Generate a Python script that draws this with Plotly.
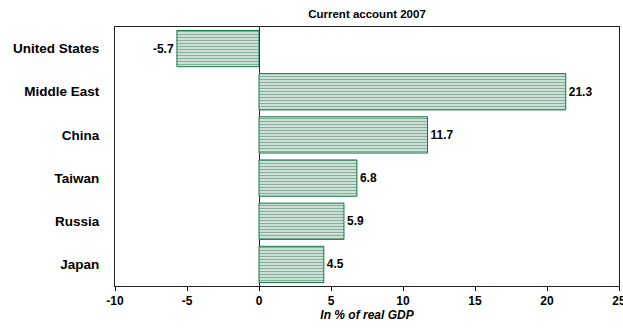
import plotly.graph_objects as go

regions = ["United States", "Middle East", "China", "Taiwan", "Russia", "Japan"]
current_account = [-5.7, 21.3, 11.7, 6.8, 5.9, 4.5]
x_ticks = [-10, -5, 0, 5, 10, 15, 20, 25]

GREEN = "#0a5f33"
FONT = "Liberation Sans, Arial, sans-serif"

fig = go.Figure(
    go.Bar(
        x=current_account,
        y=regions,
        orientation="h",
        text=[f"<b>{v:.1f}</b>" for v in current_account],
        textposition="outside",
        textfont=dict(family=FONT, size=12, color="black"),
        cliponaxis=False,
        marker=dict(
            color="white",
            line=dict(color="#0d7a45", width=1),
            pattern=dict(shape="-", fgcolor=GREEN, bgcolor="white",
                         size=3, solidity=0.6, fillmode="overlay"),
        ),
    )
)

fig.update_layout(
    width=623,
    height=333,
    margin=dict(l=115, r=4, t=27, b=47, autoexpand=False),
    paper_bgcolor="white",
    plot_bgcolor="white",
    bargap=0.16,
    showlegend=False,
    font=dict(family=FONT, size=12, color="black"),
    title=dict(
        text="<b>Current account 2007</b>",
        x=(115 + 619) / 2 / 623, xanchor="center",
        y=1 - 14 / 333, yanchor="middle",
        font=dict(family=FONT, size=11.5, color="black"),
    ),
)

fig.update_xaxes(
    range=[-10, 25],
    tickvals=x_ticks,
    ticktext=[f"<b>{t}</b>" for t in x_ticks],
    ticks="outside",
    ticklen=4,
    tickcolor="black",
    ticklabeloverflow="allow",
    automargin=False,
    showgrid=False,
    zeroline=True,
    zerolinecolor="#222222",
    zerolinewidth=1,
    showline=True,
    linecolor="#222222",
    linewidth=1,
    mirror=True,
    tickfont=dict(family=FONT, size=12, color="black"),
    title=dict(text="<b><i>In % of real GDP</i></b>", standoff=3,
               font=dict(family=FONT, size=12, color="black")),
)

fig.update_yaxes(
    autorange="reversed",
    automargin=False,
    showgrid=False,
    showline=True,
    linecolor="#222222",
    linewidth=1,
    mirror=True,
    ticks="",
    ticklabelstandoff=12,
    tickvals=regions,
    ticktext=[f"<b>{r}</b>" for r in regions],
    tickfont=dict(family=FONT, size=13.5, color="black"),
)

fig.write_html("out.html")
